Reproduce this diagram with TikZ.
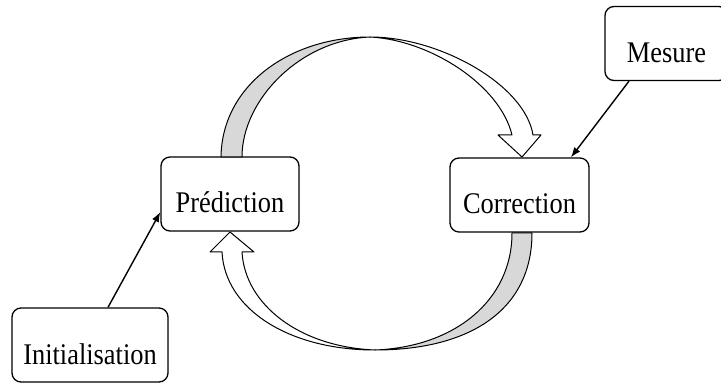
\documentclass[tikz,border=0pt]{standalone}
\usepackage{fontspec}
\setmainfont{Liberation Serif}[FakeStretch=0.88]
\usetikzlibrary{arrows.meta}
\definecolor{bandgray}{RGB}{216,216,216}
\begin{document}
\begin{tikzpicture}[x=1pt,y=-1pt,
  stepbox/.style={draw=black,line width=1.3pt,rounded corners=9pt,fill=white,
    inner sep=2pt,minimum height=74pt,text height=38pt,text depth=0pt,
    font=\fontsize{30pt}{36pt}\selectfont},
  conn/.style={draw=black,line width=1.4pt,-{Latex[length=10pt,width=7.5pt]}},
  band/.style={draw=black,line width=1pt,line join=round}]
\useasboundingbox (0,0) rectangle (721,385);

% the four stages
\node[stepbox,minimum width=138pt] (pred) at (230,194)   {Prédiction};
\node[stepbox,minimum width=139pt] (corr) at (519.5,195) {Correction};
\node[stepbox,minimum width=156pt] (init) at (90,345)    {Initialisation};
\node[stepbox,minimum width=123pt] (mes)  at (666.5,43.5) {Mesure};

% upper curved block arrow: shaded back side, then the front side with its head
\filldraw[band,fill=bandgray] (221,157) .. controls (222,85) and (290,37) .. (370,37)
  .. controls (300,40) and (242,100) .. (242,157) -- cycle;
\filldraw[band,fill=white] (370,37) .. controls (440,37) and (525,85) .. (533,135)
  -- (541,135) -- (522,157) -- (498,135) -- (512,135)
  .. controls (500,85) and (430,40) .. (370,37) -- cycle;

% lower curved block arrow
\filldraw[band,fill=bandgray] (532,233) .. controls (532,310) and (470,350) .. (375,350)
  .. controls (455,347) and (512,300) .. (512,233) -- cycle;
\filldraw[band,fill=white] (375,350) .. controls (290,350) and (225,310) .. (222,252)
  -- (210,252) -- (230,232) -- (254,252) -- (242,252)
  .. controls (245,305) and (300,347) .. (375,350) -- cycle;

% inputs
\draw[conn] ([xshift=18pt]init.north) -- ([yshift=-18pt]pred.west);
\draw[conn] ([xshift=-37.5pt]mes.south) -- ([xshift=51.5pt]corr.north);
\end{tikzpicture}
\end{document}
